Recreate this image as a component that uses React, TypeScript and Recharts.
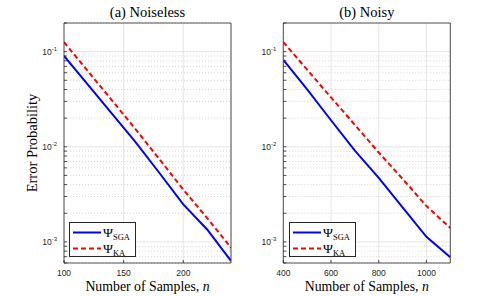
import React from 'react';
import { LineChart, Line, XAxis, YAxis, CartesianGrid, Legend, Label } from 'recharts';

// ---------- data ----------
const nNoiseless = [100, 120, 140, 160, 180, 200, 220, 240];
const sgaNoiseless = [0.09, 0.045, 0.0224, 0.0112, 0.0053, 0.00248, 0.00135, 0.00063];
const kaNoiseless = [0.126, 0.0624, 0.031, 0.0153, 0.0074, 0.00355, 0.00178, 0.00087];

const nNoisy = [400, 500, 600, 700, 800, 900, 1000, 1100];
const sgaNoisy = [0.082, 0.04, 0.019, 0.0091, 0.0047, 0.0023, 0.00113, 0.00069];
const kaNoisy = [0.126, 0.0646, 0.033, 0.017, 0.0087, 0.0046, 0.00238, 0.0014];

const xTicksNoiseless = [100, 150, 200];
const xTicksNoisy = [400, 600, 800, 1000];
const xDomainNoiseless = [100, 240];
const xDomainNoisy = [400, 1100];

const yDomain = [6e-4, 0.2];
const yMajorTicks = [1e-3, 1e-2, 1e-1];
const yMinorTicks = [
  6e-4, 7e-4, 8e-4, 9e-4,
  2e-3, 3e-3, 4e-3, 5e-3, 6e-3, 7e-3, 8e-3, 9e-3,
  2e-2, 3e-2, 4e-2, 5e-2, 6e-2, 7e-2, 8e-2, 9e-2,
  0.2,
];
const yAllTicks = [...yMinorTicks, ...yMajorTicks].sort((a, b) => a - b);

const titles = ['(a) Noiseless', '(b) Noisy'];
const seriesNames = ['SGA', 'KA'];

// ---------- styles ----------
const SERIF = '"Liberation Serif", "Times New Roman", serif';
const SANS = '"Liberation Sans", Arial, sans-serif';
const AXIS = '#262626';
const BLUE = '#0000ff';
const RED = '#ff0000';

const isMajor = (v: number) => Math.abs(Math.log10(v) - Math.round(Math.log10(v))) < 1e-6;

const YTick = (props: any) => {
  const { x, y, payload } = props;
  const v = payload.value;
  if (!isMajor(v)) return <g />;
  const exp = Math.round(Math.log10(v));
  return (
    <text x={x} y={y + 3} textAnchor="end" fontSize={8.5} fill={AXIS} fontFamily={SANS}>
      <tspan>10</tspan>
      <tspan dy={-4} fontSize={6}>{exp}</tspan>
    </text>
  );
};

const XTick = (props: any) => {
  const { x, y, payload } = props;
  return (
    <text x={x} y={y + 6} textAnchor="middle" fontSize={8.5} fill={AXIS} fontFamily={SANS}>
      {payload.value}
    </text>
  );
};

const LegendBox = () => (
  <div
    style={{
      width: 67,
      height: 35,
      boxSizing: 'border-box',
      border: `1px solid ${AXIS}`,
      background: '#fff',
    }}
  >
    <svg width={65} height={33} style={{ display: 'block' }}>
      {seriesNames.map((s, i) => {
        const cy = 9.5 + i * 16;
        return (
          <g key={s}>
            <line
              x1={3}
              x2={31}
              y1={cy}
              y2={cy}
              stroke={i === 0 ? BLUE : RED}
              strokeWidth={2}
              strokeDasharray={i === 0 ? undefined : '5 3'}
            />
            <text x={33} y={cy + 4.5} fontFamily={SERIF} fontSize={13.5} fill="#000">
              <tspan>Ψ</tspan>
              <tspan dy={2.5} fontSize={8.5}>{s}</tspan>
            </text>
          </g>
        );
      })}
    </svg>
  </div>
);

type PanelProps = {
  left: number;
  width: number;
  marginLeft: number;
  marginRight: number;
  yAxisWidth: number;
  n: number[];
  sga: number[];
  ka: number[];
  xTicks: number[];
  xDomain: number[];
  title: string;
  showYLabel: boolean;
  legendLeft: number;
};

const Panel = (p: PanelProps) => {
  const data = p.n.map((n, i) => ({ n, sga: p.sga[i], ka: p.ka[i] }));
  return (
    <div style={{ position: 'absolute', left: p.left, top: 0 }}>
      <LineChart
        width={p.width}
        height={296}
        data={data}
        margin={{ top: 22, right: p.marginRight, left: p.marginLeft, bottom: 0 }}
      >
        <CartesianGrid xAxisId="b" yAxisId="l" horizontal={false} stroke="#e0e0e0" strokeWidth={0.8} />
        <CartesianGrid
          xAxisId="b"
          yAxisId="l"
          vertical={false}
          horizontalValues={yMajorTicks}
          stroke="#e0e0e0"
          strokeWidth={0.8}
        />
        <CartesianGrid
          xAxisId="b"
          yAxisId="l"
          vertical={false}
          horizontalValues={yMinorTicks}
          stroke="#cccccc"
          strokeWidth={0.8}
          strokeDasharray="1 2"
        />
        <XAxis
          xAxisId="b"
          dataKey="n"
          type="number"
          domain={p.xDomain}
          ticks={p.xTicks}
          interval={0}
          allowDataOverflow
          height={33}
          tickSize={-3}
          tickMargin={10}
          tick={<XTick />}
          axisLine={{ stroke: AXIS, strokeWidth: 0.8 }}
          tickLine={{ stroke: AXIS, strokeWidth: 0.8 }}
        >
          <Label
            content={(lp: any) => {
              const vb = lp.viewBox;
              return (
                <text
                  x={vb.x + vb.width / 2}
                  y={vb.y + 28}
                  textAnchor="middle"
                  fontFamily={SERIF}
                  fontSize={13.8}
                  fill="#000"
                >
                  Number of Samples, <tspan fontStyle="italic">n</tspan>
                </text>
              );
            }}
          />
        </XAxis>
        <XAxis
          xAxisId="t"
          orientation="top"
          type="number"
          dataKey="n"
          domain={p.xDomain}
          ticks={p.xTicks}
          interval={0}
          allowDataOverflow
          height={1}
          tickSize={-3}
          tick={false}
          axisLine={{ stroke: AXIS, strokeWidth: 0.8 }}
          tickLine={{ stroke: AXIS, strokeWidth: 0.8 }}
        >
          <Label
            content={(lp: any) => {
              const vb = lp.viewBox;
              return (
                <text
                  x={vb.x + vb.width / 2}
                  y={16.5}
                  textAnchor="middle"
                  fontFamily={SERIF}
                  fontSize={14.5}
                  fill="#000"
                >
                  {p.title}
                </text>
              );
            }}
          />
        </XAxis>
        <YAxis
          yAxisId="l"
          type="number"
          scale="log"
          domain={yDomain}
          ticks={yAllTicks}
          interval={0}
          allowDataOverflow
          width={p.yAxisWidth}
          tickSize={-3}
          tickMargin={10}
          tick={<YTick />}
          axisLine={{ stroke: AXIS, strokeWidth: 0.8 }}
          tickLine={{ stroke: AXIS, strokeWidth: 0.8 }}
        >
          {p.showYLabel && (
            <Label
              content={(lp: any) => {
                const vb = lp.viewBox;
                const cx = vb.x + 32;
                const cy = vb.y + vb.height / 2;
                return (
                  <text
                    x={cx}
                    y={cy}
                    transform={`rotate(-90, ${cx}, ${cy})`}
                    textAnchor="middle"
                    dominantBaseline="central"
                    fontFamily={SERIF}
                    fontSize={14.5}
                    fill="#000"
                  >
                    Error Probability
                  </text>
                );
              }}
            />
          )}
        </YAxis>
        <YAxis
          yAxisId="r"
          orientation="right"
          type="number"
          scale="log"
          domain={yDomain}
          ticks={yAllTicks}
          interval={0}
          allowDataOverflow
          width={1}
          tickSize={-3}
          tick={false}
          axisLine={{ stroke: AXIS, strokeWidth: 0.8 }}
          tickLine={{ stroke: AXIS, strokeWidth: 0.8 }}
        />
        <Line
          xAxisId="b"
          yAxisId="l"
          type="linear"
          dataKey="ka"
          name="KA"
          stroke={RED}
          strokeWidth={2}
          strokeDasharray="5 3"
          dot={false}
          isAnimationActive={false}
        />
        <Line
          xAxisId="b"
          yAxisId="l"
          type="linear"
          dataKey="sga"
          name="SGA"
          stroke={BLUE}
          strokeWidth={2}
          dot={false}
          isAnimationActive={false}
        />
        <Legend
          layout="vertical"
          align="center"
          verticalAlign="middle"
          wrapperStyle={{ left: p.legendLeft, top: 222, width: 67, height: 35, right: 'auto', bottom: 'auto' }}
          content={() => <LegendBox />}
        />
      </LineChart>
    </div>
  );
};

export default function App() {
  return (
    <div style={{ position: 'absolute', left: 0, top: 0, width: 498, height: 296, background: '#fff' }}>
      <Panel
        left={0}
        width={250}
        marginLeft={0}
        marginRight={18}
        yAxisWidth={64}
        n={nNoiseless}
        sga={sgaNoiseless}
        ka={kaNoiseless}
        xTicks={xTicksNoiseless}
        xDomain={xDomainNoiseless}
        title={titles[0]}
        showYLabel
        legendLeft={69}
      />
      <Panel
        left={250}
        width={248}
        marginLeft={0}
        marginRight={46.7}
        yAxisWidth={33.3}
        n={nNoisy}
        sga={sgaNoisy}
        ka={kaNoisy}
        xTicks={xTicksNoisy}
        xDomain={xDomainNoisy}
        title={titles[1]}
        showYLabel={false}
        legendLeft={39.3}
      />
    </div>
  );
}
